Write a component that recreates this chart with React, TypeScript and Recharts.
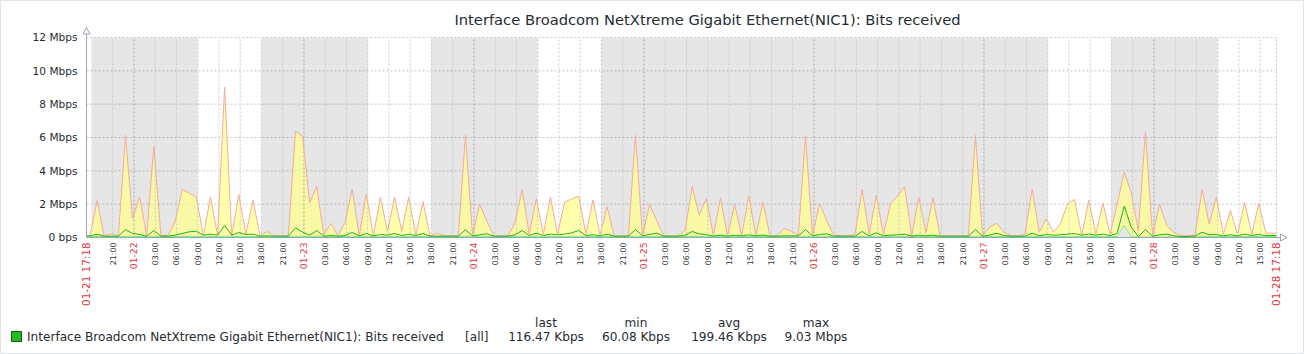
import React from "react";
import {
  ComposedChart,
  Area,
  Line,
  XAxis,
  YAxis,
  CartesianGrid,
  ReferenceArea,
  ReferenceLine,
} from "recharts";

// time axis: hours since 01-21 17:18, one week
const START_HOUR = 17.3;
const SPAN_HOURS = 168;
const START_LABEL = "01-21 17:18";
const END_LABEL = "01-28 17:18";
const DAY_LABELS = ["01-22", "01-23", "01-24", "01-25", "01-26", "01-27", "01-28"];
const Y_TICKS = [0, 2, 4, 6, 8, 10, 12];

// non-working time (gray bands), hours since start
const OFF_HOURS: [number, number][] = [
  [0.7, 15.7],
  [24.7, 39.7],
  [48.7, 63.7],
  [72.7, 135.7],
  [144.7, 159.7],
];

// hourly trend samples in Mbps, first sample half an hour before the start
const MAX_MBPS = [
  0.1,
  0.1, 2.22, 0.1, 0.22, 0.1, 6.14, 1.12, 2.44, 0.1, 5.48, 0.12, 0.12, 0.92, 2.88, 2.66, 2.44,
  0.1, 2.44, 0.15, 9.03, 0.1, 2.58, 0.2, 2.24, 0.1, 0.36, 0.1, 0.1, 0.1, 6.38, 6.08, 2.08,
  3.06, 0.15, 0.84, 0.1, 0.88, 2.88, 0.1, 2.62, 0.1, 2.42, 0.38, 2.42, 0.38, 2.42, 0.15, 2.16,
  0.1, 0.26, 0.1, 0.1, 0.1, 6.14, 0.1, 1.98, 1.0, 0.1, 0.1, 0.1, 0.88, 2.88, 0.2, 2.32,
  0.2, 2.42, 0.2, 2.12, 2.32, 2.48, 0.2, 2.24, 0.15, 1.84, 0.1, 0.1, 0.1, 6.12, 0.1, 1.98,
  1.0, 0.1, 0.1, 0.1, 0.4, 3.06, 1.34, 2.34, 0.1, 2.38, 0.1, 1.98, 0.1, 2.48, 0.1, 2.12,
  0.1, 0.1, 0.54, 0.38, 0.15, 6.08, 0.1, 2.06, 1.0, 0.15, 0.1, 0.1, 0.2, 2.88, 0.2, 2.54,
  0.2, 2.0, 2.5, 3.04, 0.1, 2.42, 0.28, 2.38, 0.1, 0.1, 0.1, 0.1, 0.1, 6.12, 0.1, 0.62,
  0.86, 0.32, 0.1, 0.1, 0.2, 2.88, 0.32, 1.12, 0.32, 0.82, 2.04, 2.28, 0.14, 2.22, 0.2, 2.06,
  0.2, 1.98, 3.92, 2.68, 0.38, 6.32, 0.1, 1.98, 0.72, 0.32, 0.1, 0.1, 0.15, 2.88, 0.82, 2.42,
  0.2, 1.62, 0.2, 2.12, 0.2, 2.04, 0.26, 0.26,
  0.26,
];

const AVG_MBPS = [
  0.1,
  0.1, 0.2, 0.08, 0.08, 0.08, 0.48, 0.24, 0.18, 0.08, 0.42, 0.08, 0.08, 0.14, 0.24, 0.34, 0.38,
  0.14, 0.2, 0.14, 0.72, 0.14, 0.3, 0.18, 0.2, 0.08, 0.1, 0.08, 0.08, 0.08, 0.58, 0.32, 0.14,
  0.42, 0.08, 0.12, 0.08, 0.12, 0.3, 0.1, 0.24, 0.1, 0.18, 0.14, 0.24, 0.12, 0.2, 0.12, 0.24,
  0.08, 0.08, 0.08, 0.08, 0.08, 0.46, 0.1, 0.16, 0.22, 0.08, 0.08, 0.08, 0.16, 0.42, 0.12, 0.26,
  0.12, 0.2, 0.16, 0.2, 0.28, 0.42, 0.12, 0.16, 0.1, 0.2, 0.08, 0.08, 0.08, 0.48, 0.1, 0.18,
  0.26, 0.08, 0.08, 0.08, 0.14, 0.36, 0.22, 0.18, 0.08, 0.14, 0.08, 0.14, 0.1, 0.16, 0.1, 0.14,
  0.08, 0.08, 0.1, 0.1, 0.1, 0.48, 0.1, 0.18, 0.22, 0.08, 0.08, 0.08, 0.08, 0.36, 0.1, 0.28,
  0.1, 0.14, 0.16, 0.2, 0.08, 0.14, 0.1, 0.14, 0.08, 0.08, 0.08, 0.08, 0.08, 0.48, 0.08, 0.14,
  0.26, 0.12, 0.08, 0.08, 0.08, 0.26, 0.1, 0.18, 0.14, 0.16, 0.2, 0.24, 0.14, 0.2, 0.14, 0.2,
  0.12, 0.24, 1.88, 0.62, 0.05, 0.48, 0.08, 0.16, 0.2, 0.1, 0.06, 0.06, 0.08, 0.32, 0.16, 0.18,
  0.1, 0.16, 0.1, 0.2, 0.12, 0.18, 0.12, 0.12,
  0.12,
];

const MIN_MBPS = [
  0.06,
  0.06, 0.06, 0.06, 0.06, 0.06, 0.06, 0.06, 0.06, 0.06, 0.06, 0.06, 0.06, 0.06, 0.06, 0.06, 0.06,
  0.06, 0.06, 0.06, 0.07, 0.06, 0.06, 0.06, 0.06, 0.06, 0.06, 0.06, 0.06, 0.06, 0.07, 0.06, 0.06,
  0.06, 0.06, 0.06, 0.06, 0.06, 0.06, 0.06, 0.06, 0.06, 0.06, 0.06, 0.06, 0.06, 0.06, 0.06, 0.06,
  0.06, 0.06, 0.06, 0.06, 0.06, 0.07, 0.06, 0.06, 0.06, 0.06, 0.06, 0.06, 0.06, 0.06, 0.06, 0.06,
  0.06, 0.06, 0.06, 0.06, 0.06, 0.06, 0.06, 0.06, 0.06, 0.06, 0.06, 0.06, 0.06, 0.07, 0.06, 0.06,
  0.06, 0.06, 0.06, 0.06, 0.06, 0.06, 0.06, 0.06, 0.06, 0.06, 0.06, 0.06, 0.06, 0.06, 0.06, 0.06,
  0.06, 0.06, 0.06, 0.06, 0.06, 0.07, 0.06, 0.06, 0.06, 0.06, 0.06, 0.06, 0.06, 0.06, 0.06, 0.06,
  0.06, 0.06, 0.06, 0.06, 0.06, 0.06, 0.06, 0.06, 0.06, 0.06, 0.06, 0.06, 0.06, 0.07, 0.06, 0.06,
  0.06, 0.06, 0.06, 0.06, 0.06, 0.06, 0.06, 0.06, 0.06, 0.06, 0.06, 0.06, 0.06, 0.06, 0.06, 0.06,
  0.06, 0.06, 0.74, 0.06, 0.03, 0.03, 0.03, 0.03, 0.03, 0.03, 0.03, 0.03, 0.03, 0.06, 0.06, 0.06,
  0.06, 0.06, 0.06, 0.06, 0.06, 0.06, 0.06, 0.06,
  0.06,
];

const LEGEND_NAME = "Interface Broadcom NetXtreme Gigabit Ethernet(NIC1): Bits received";
const LEGEND_FUNC = "[all]";
const LEGEND_COLS = ["last", "min", "avg", "max"];
const LEGEND_VALUES = ["116.47 Kbps", "60.08 Kbps", "199.46 Kbps", "9.03 Mbps"];

const data = MAX_MBPS.map((v, i) => ({
  t: i - 0.5,
  band: [MIN_MBPS[i], v],
  max: v,
  avg: AVG_MBPS[i],
  min: MIN_MBPS[i],
}));

// every 3 hours from 21:00 on the first day
const X_TICKS: number[] = [0];
for (let t = 21 - START_HOUR; t < SPAN_HOURS; t += 3) X_TICKS.push(+t.toFixed(1));
X_TICKS.push(SPAN_HOURS);

function tickInfo(t: number) {
  if (t === 0) return { label: START_LABEL, kind: "end" };
  if (t === SPAN_HOURS) return { label: END_LABEL, kind: "end" };
  const abs = Math.round(START_HOUR + t);
  const hour = abs % 24;
  if (hour === 0) return { label: DAY_LABELS[abs / 24 - 1], kind: "day" };
  return { label: String(hour).padStart(2, "0") + ":00", kind: "hour" };
}

const FONT = "DejaVu Sans, sans-serif";
const TEXT = "#1f2c33";
const RED = "#e3383d";
const AXIS = "#9aa7b1";

function TimeTick(props: any) {
  const { x, y, payload } = props;
  const { label, kind } = tickInfo(payload.value);
  const size = kind === "end" ? 10.4 : kind === "day" ? 9.2 : 7.9;
  return (
    <text
      x={x}
      y={y}
      transform={`rotate(-90 ${x} ${y})`}
      textAnchor="end"
      dy="0.36em"
      fontSize={size}
      fontFamily={FONT}
      fill={kind === "hour" ? "#333" : RED}
    >
      {label}
    </text>
  );
}

export default function App() {
  return (
    <div
      style={{
        position: "absolute",
        left: 0,
        top: 0,
        width: 1304,
        height: 354,
        background: "#fff",
        boxSizing: "border-box",
        border: "1px solid #e2e5e8",
      }}
    >
      <div style={{ position: "absolute", left: -1, top: -1 }}>
        <ComposedChart
          width={1304}
          height={354}
          data={data}
          margin={{ top: 37.5, right: 27.5, bottom: 56.5, left: 0 }}
        >
          {OFF_HOURS.map(([a, b]) => (
            <ReferenceArea key={a} x1={a} x2={b} fill="#000" fillOpacity={0.098} stroke="none" ifOverflow="hidden" />
          ))}
          <CartesianGrid stroke="#c3cad0" strokeDasharray="2 2" vertical={false} />
          {X_TICKS.filter((t) => t > 0).map((t) => (
            <ReferenceLine
              key={t}
              x={t}
              stroke={tickInfo(t).kind === "day" ? "#9ea7af" : "#c3cad0"}
              strokeDasharray="2 2"
            />
          ))}
          <XAxis
            dataKey="t"
            type="number"
            domain={[0, SPAN_HOURS]}
            allowDataOverflow
            ticks={X_TICKS}
            interval={0}
            height={60}
            tickLine={false}
            tickSize={0}
            tickMargin={5}
            axisLine={{ stroke: AXIS }}
            tick={<TimeTick />}
          />
          <YAxis
            type="number"
            domain={[0, 12]}
            ticks={Y_TICKS}
            width={86.5}
            tickLine={false}
            tickSize={0}
            tickMargin={9}
            axisLine={{ stroke: AXIS }}
            tick={{ fontSize: 10.6, fill: TEXT, fontFamily: FONT }}
            tickFormatter={(v: number) => (v === 0 ? "0 bps" : `${v} Mbps`)}
          />
          <Area
            dataKey="band"
            type="linear"
            fill="#ffff8c"
            fillOpacity={0.72}
            stroke="none"
            isAnimationActive={false}
          />
          <Line dataKey="max" type="linear" stroke="#f7aa9c" strokeWidth={1} dot={false} isAnimationActive={false} />
          <Line dataKey="min" type="linear" stroke="#86ea86" strokeWidth={1} dot={false} isAnimationActive={false} />
          <Line dataKey="avg" type="linear" stroke="#16b816" strokeWidth={1} dot={false} isAnimationActive={false} />
        </ComposedChart>
      </div>
      <svg
        width={1304}
        height={354}
        style={{ position: "absolute", left: -1, top: -1, pointerEvents: "none" }}
      >
        {/* axis arrows */}
        <line x1={86.5} y1={34} x2={86.5} y2={37.5} stroke={AXIS} />
        <polygon points="83,34 86.5,27.5 90,34" fill="#fff" stroke={AXIS} />
        <line x1={1276.5} y1={237.5} x2={1280.5} y2={237.5} stroke={AXIS} />
        <polygon points="1280.5,234 1287,237.5 1280.5,241" fill="#fff" stroke={AXIS} />
        <text x={707.5} y={25} textAnchor="middle" fontSize={14.7} fontFamily={FONT} fill={TEXT}>
          Interface Broadcom NetXtreme Gigabit Ethernet(NIC1): Bits received
        </text>
        <rect x={11.5} y={331.5} width={10} height={10} fill="#22bb22" stroke="#1b5e1b" />
        <text x={27} y={341} fontSize={12.1} fontFamily={FONT} fill={TEXT}>
          {LEGEND_NAME}
        </text>
        <text x={465} y={341} fontSize={12.1} fontFamily={FONT} fill={TEXT}>
          {LEGEND_FUNC}
        </text>
        {LEGEND_COLS.map((c, i) => {
          const cx = [546, 636, 729, 816][i];
          return (
            <g key={c}>
              <text x={cx} y={327} textAnchor="middle" fontSize={12.1} fontFamily={FONT} fill={TEXT}>
                {c}
              </text>
              <text x={cx} y={341} textAnchor="middle" fontSize={12.1} fontFamily={FONT} fill={TEXT}>
                {LEGEND_VALUES[i]}
              </text>
            </g>
          );
        })}
      </svg>
    </div>
  );
}
